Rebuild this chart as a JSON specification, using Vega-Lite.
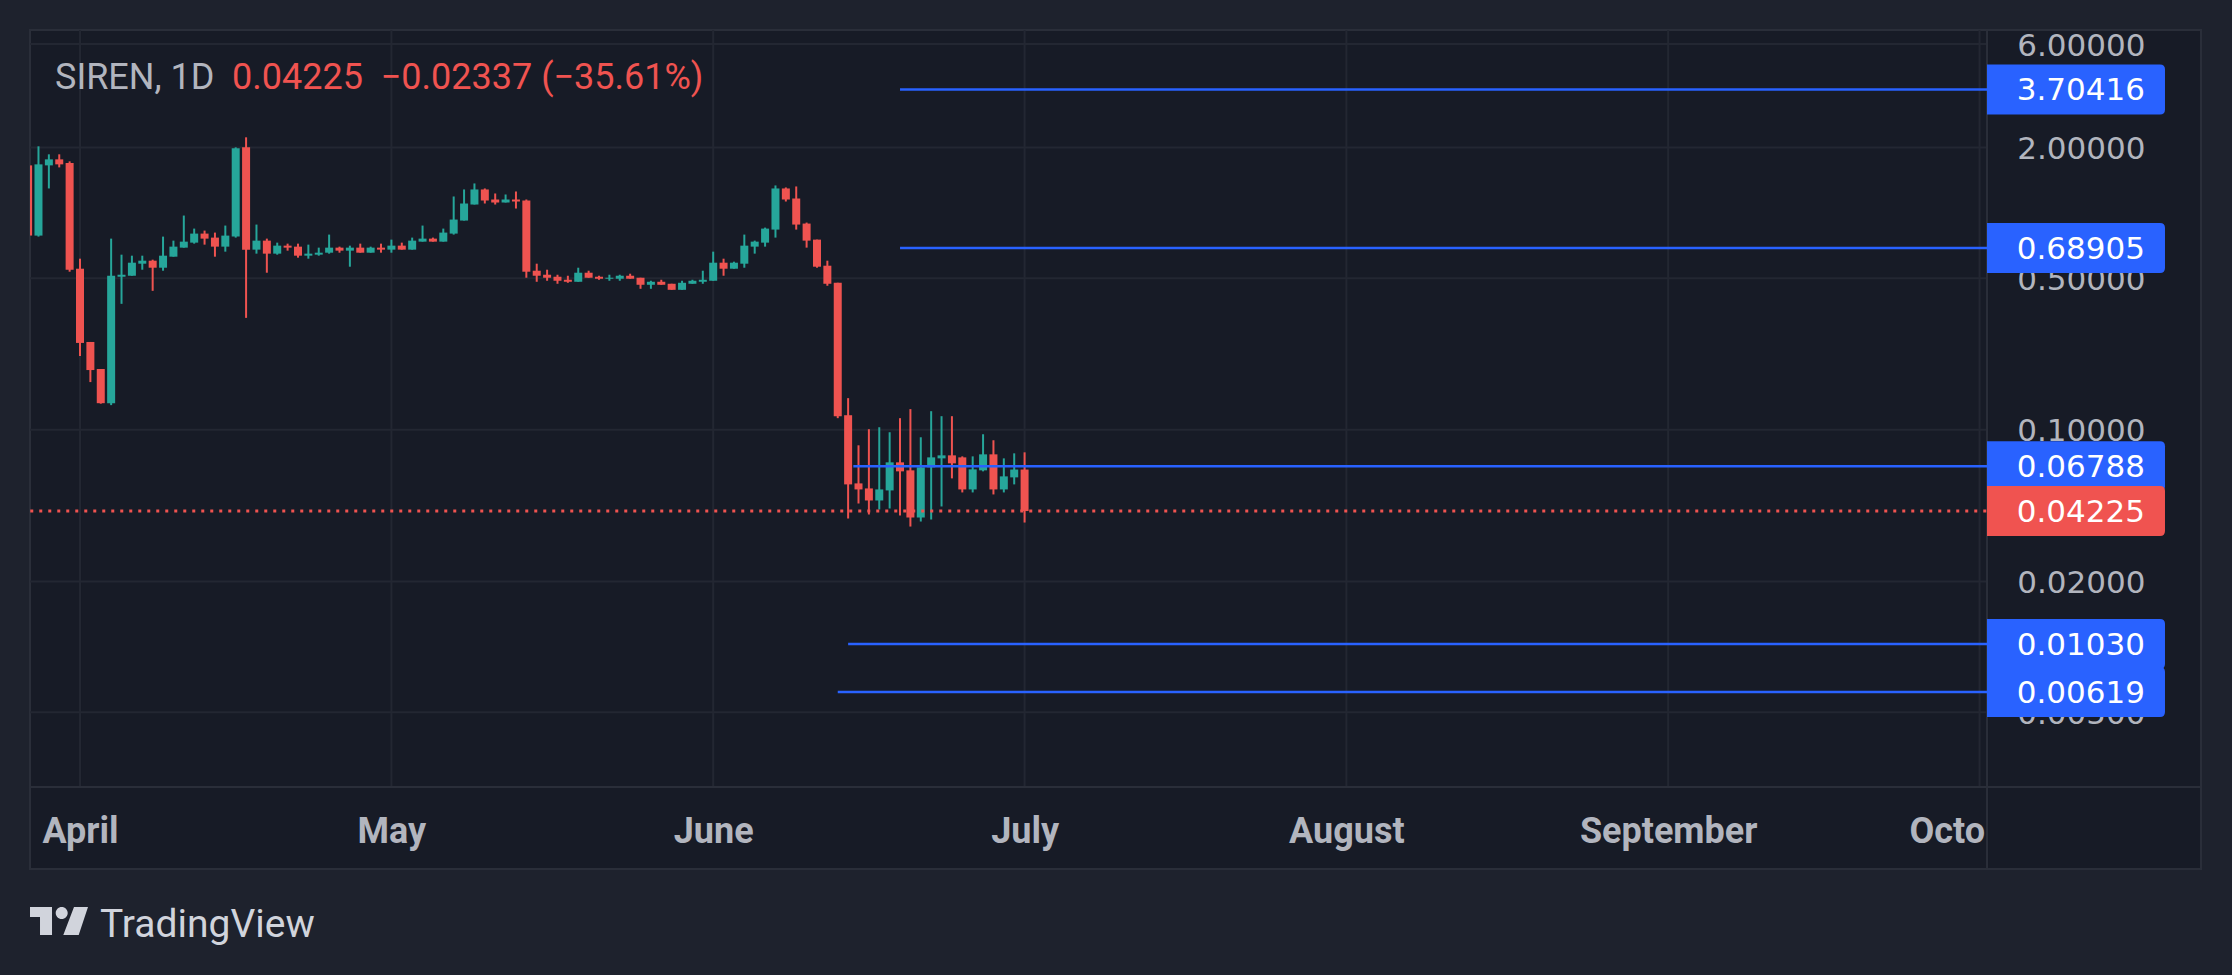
{
  "$schema": "https://vega.github.io/schema/vega-lite/v6.json",
  "width": 2171,
  "height": 839,
  "autosize": {"type": "none"},
  "padding": {"left": 30, "top": 30, "right": 31, "bottom": 106},
  "background": "#1e222d",
  "datasets": {
    "candles": [
      {"d": "2025-03-27", "o": 1.655, "h": 1.70, "l": 0.78, "c": 0.786},
      {"d": "2025-03-28", "o": 0.7855, "h": 2.026, "l": 0.7772, "c": 1.673},
      {"d": "2025-03-29", "o": 1.655, "h": 1.861, "l": 1.2955, "c": 1.764},
      {"d": "2025-03-30", "o": 1.764, "h": 1.861, "l": 1.620, "c": 1.673},
      {"d": "2025-03-31", "o": 1.696, "h": 1.727, "l": 0.5355, "c": 0.547},
      {"d": "2025-04-01", "o": 0.5528, "h": 0.6149, "l": 0.2189, "c": 0.2515},
      {"d": "2025-04-02", "o": 0.2541, "h": 0.2541, "l": 0.166, "c": 0.1886},
      {"d": "2025-04-03", "o": 0.1907, "h": 0.1907, "l": 0.132, "c": 0.1327},
      {"d": "2025-04-04", "o": 0.1327, "h": 0.7607, "l": 0.130, "c": 0.5131},
      {"d": "2025-04-05", "o": 0.5077, "h": 0.6417, "l": 0.3808, "c": 0.5186},
      {"d": "2025-04-06", "o": 0.5131, "h": 0.6348, "l": 0.5131, "c": 0.5893},
      {"d": "2025-04-07", "o": 0.5831, "h": 0.6348, "l": 0.547, "c": 0.602},
      {"d": "2025-04-08", "o": 0.602, "h": 0.6084, "l": 0.4372, "c": 0.5587},
      {"d": "2025-04-09", "o": 0.5587, "h": 0.7772, "l": 0.5412, "c": 0.6348},
      {"d": "2025-04-10", "o": 0.6281, "h": 0.7447, "l": 0.6281, "c": 0.6987},
      {"d": "2025-04-11", "o": 0.6913, "h": 0.9718, "l": 0.6913, "c": 0.7368},
      {"d": "2025-04-12", "o": 0.729, "h": 0.8462, "l": 0.7213, "c": 0.8024},
      {"d": "2025-04-13", "o": 0.8024, "h": 0.8284, "l": 0.7137, "c": 0.7607},
      {"d": "2025-04-14", "o": 0.769, "h": 0.811, "l": 0.6281, "c": 0.6987},
      {"d": "2025-04-15", "o": 0.6987, "h": 0.8738, "l": 0.6625, "c": 0.7855},
      {"d": "2025-04-16", "o": 0.7772, "h": 2.004, "l": 0.769, "c": 1.983},
      {"d": "2025-04-17", "o": 2.004, "h": 2.229, "l": 0.3281, "c": 0.6768},
      {"d": "2025-04-18", "o": 0.6768, "h": 0.8831, "l": 0.6486, "c": 0.7447},
      {"d": "2025-04-19", "o": 0.7447, "h": 0.7607, "l": 0.5298, "c": 0.6486},
      {"d": "2025-04-20", "o": 0.6486, "h": 0.729, "l": 0.6417, "c": 0.7061},
      {"d": "2025-04-21", "o": 0.7061, "h": 0.7213, "l": 0.6696, "c": 0.6913},
      {"d": "2025-04-22", "o": 0.6987, "h": 0.7213, "l": 0.6215, "c": 0.6348},
      {"d": "2025-04-23", "o": 0.6348, "h": 0.7137, "l": 0.6149, "c": 0.6486},
      {"d": "2025-04-24", "o": 0.6417, "h": 0.6913, "l": 0.6348, "c": 0.6553},
      {"d": "2025-04-25", "o": 0.6553, "h": 0.794, "l": 0.6486, "c": 0.6913},
      {"d": "2025-04-26", "o": 0.6913, "h": 0.6987, "l": 0.6553, "c": 0.6696},
      {"d": "2025-04-27", "o": 0.6696, "h": 0.7061, "l": 0.5647, "c": 0.6913},
      {"d": "2025-04-28", "o": 0.6913, "h": 0.7213, "l": 0.6553, "c": 0.6553},
      {"d": "2025-04-29", "o": 0.6553, "h": 0.6987, "l": 0.6553, "c": 0.6913},
      {"d": "2025-04-30", "o": 0.6913, "h": 0.7213, "l": 0.6553, "c": 0.6768},
      {"d": "2025-05-01", "o": 0.6768, "h": 0.7527, "l": 0.6553, "c": 0.7061},
      {"d": "2025-05-02", "o": 0.7061, "h": 0.729, "l": 0.6768, "c": 0.6768},
      {"d": "2025-05-03", "o": 0.6768, "h": 0.769, "l": 0.6768, "c": 0.7447},
      {"d": "2025-05-04", "o": 0.7368, "h": 0.8738, "l": 0.7368, "c": 0.7607},
      {"d": "2025-05-05", "o": 0.7607, "h": 0.769, "l": 0.7368, "c": 0.7368},
      {"d": "2025-05-06", "o": 0.7368, "h": 0.8462, "l": 0.7368, "c": 0.811},
      {"d": "2025-05-07", "o": 0.8024, "h": 1.1898, "l": 0.794, "c": 0.9313},
      {"d": "2025-05-08", "o": 0.9215, "h": 1.2818, "l": 0.9215, "c": 1.1043},
      {"d": "2025-05-09", "o": 1.0925, "h": 1.3664, "l": 1.0925, "c": 1.2818},
      {"d": "2025-05-10", "o": 1.2818, "h": 1.2955, "l": 1.1043, "c": 1.14},
      {"d": "2025-05-11", "o": 1.1522, "h": 1.2282, "l": 1.0925, "c": 1.116},
      {"d": "2025-05-12", "o": 1.116, "h": 1.2152, "l": 1.116, "c": 1.1522},
      {"d": "2025-05-13", "o": 1.1522, "h": 1.2545, "l": 1.047, "c": 1.1279},
      {"d": "2025-05-14", "o": 1.14, "h": 1.1522, "l": 0.5023, "c": 0.5355},
      {"d": "2025-05-15", "o": 0.5412, "h": 0.5831, "l": 0.4813, "c": 0.5131},
      {"d": "2025-05-16", "o": 0.5186, "h": 0.547, "l": 0.4865, "c": 0.5023},
      {"d": "2025-05-17", "o": 0.5077, "h": 0.5186, "l": 0.4712, "c": 0.4865},
      {"d": "2025-05-18", "o": 0.4917, "h": 0.5131, "l": 0.4762, "c": 0.4813},
      {"d": "2025-05-19", "o": 0.4813, "h": 0.5587, "l": 0.4813, "c": 0.5298},
      {"d": "2025-05-20", "o": 0.5298, "h": 0.5412, "l": 0.5023, "c": 0.5023},
      {"d": "2025-05-21", "o": 0.5077, "h": 0.5131, "l": 0.4917, "c": 0.497},
      {"d": "2025-05-22", "o": 0.497, "h": 0.5186, "l": 0.4865, "c": 0.5023},
      {"d": "2025-05-23", "o": 0.497, "h": 0.5186, "l": 0.4865, "c": 0.5131},
      {"d": "2025-05-24", "o": 0.5131, "h": 0.5242, "l": 0.497, "c": 0.497},
      {"d": "2025-05-25", "o": 0.5023, "h": 0.5023, "l": 0.4467, "c": 0.4662},
      {"d": "2025-05-26", "o": 0.4662, "h": 0.4865, "l": 0.4467, "c": 0.4813},
      {"d": "2025-05-27", "o": 0.4813, "h": 0.4917, "l": 0.4662, "c": 0.4662},
      {"d": "2025-05-28", "o": 0.4712, "h": 0.4712, "l": 0.4419, "c": 0.4419},
      {"d": "2025-05-29", "o": 0.4419, "h": 0.4865, "l": 0.4419, "c": 0.4762},
      {"d": "2025-05-30", "o": 0.4712, "h": 0.4917, "l": 0.4712, "c": 0.4865},
      {"d": "2025-05-31", "o": 0.4813, "h": 0.5412, "l": 0.4712, "c": 0.4917},
      {"d": "2025-06-01", "o": 0.4865, "h": 0.6625, "l": 0.4865, "c": 0.5893},
      {"d": "2025-06-02", "o": 0.5893, "h": 0.6149, "l": 0.5131, "c": 0.5528},
      {"d": "2025-06-03", "o": 0.5528, "h": 0.5956, "l": 0.5528, "c": 0.5893},
      {"d": "2025-06-04", "o": 0.5831, "h": 0.794, "l": 0.5587, "c": 0.7061},
      {"d": "2025-06-05", "o": 0.6987, "h": 0.7447, "l": 0.6486, "c": 0.7368},
      {"d": "2025-06-06", "o": 0.729, "h": 0.8551, "l": 0.6987, "c": 0.8462},
      {"d": "2025-06-07", "o": 0.8373, "h": 1.3376, "l": 0.769, "c": 1.2955},
      {"d": "2025-06-08", "o": 1.2955, "h": 1.3094, "l": 1.1279, "c": 1.1522},
      {"d": "2025-06-09", "o": 1.1645, "h": 1.3234, "l": 0.8373, "c": 0.8831},
      {"d": "2025-06-10", "o": 0.8925, "h": 0.902, "l": 0.6913, "c": 0.7447},
      {"d": "2025-06-11", "o": 0.7527, "h": 0.7527, "l": 0.5587, "c": 0.5647},
      {"d": "2025-06-12", "o": 0.5707, "h": 0.602, "l": 0.4613, "c": 0.4712},
      {"d": "2025-06-13", "o": 0.4762, "h": 0.4762, "l": 0.1132, "c": 0.1156},
      {"d": "2025-06-14", "o": 0.1168, "h": 0.14, "l": 0.03903, "c": 0.05606},
      {"d": "2025-06-15", "o": 0.05666, "h": 0.08487, "l": 0.04577, "c": 0.05314},
      {"d": "2025-06-16", "o": 0.05371, "h": 0.1007, "l": 0.04073, "c": 0.04726},
      {"d": "2025-06-17", "o": 0.04726, "h": 0.1028, "l": 0.04296, "c": 0.05314},
      {"d": "2025-06-18", "o": 0.05258, "h": 0.09749, "l": 0.04342, "c": 0.07084},
      {"d": "2025-06-19", "o": 0.07084, "h": 0.1132, "l": 0.0403, "c": 0.06438},
      {"d": "2025-06-20", "o": 0.06507, "h": 0.1246, "l": 0.03584, "c": 0.03945},
      {"d": "2025-06-21", "o": 0.03945, "h": 0.09243, "l": 0.0378, "c": 0.06718},
      {"d": "2025-06-22", "o": 0.06718, "h": 0.1219, "l": 0.03862, "c": 0.07468},
      {"d": "2025-06-23", "o": 0.07389, "h": 0.1156, "l": 0.04435, "c": 0.07629},
      {"d": "2025-06-24", "o": 0.07629, "h": 0.1156, "l": 0.05975, "c": 0.07009},
      {"d": "2025-06-25", "o": 0.07468, "h": 0.07548, "l": 0.05147, "c": 0.05314},
      {"d": "2025-06-26", "o": 0.05314, "h": 0.07548, "l": 0.05147, "c": 0.06576},
      {"d": "2025-06-27", "o": 0.06507, "h": 0.09544, "l": 0.06438, "c": 0.07711},
      {"d": "2025-06-28", "o": 0.07711, "h": 0.08954, "l": 0.05039, "c": 0.05314},
      {"d": "2025-06-29", "o": 0.05314, "h": 0.07389, "l": 0.05147, "c": 0.06104},
      {"d": "2025-06-30", "o": 0.06039, "h": 0.07794, "l": 0.05606, "c": 0.06562},
      {"d": "2025-07-01", "o": 0.06562, "h": 0.07878, "l": 0.0374, "c": 0.04225}
    ],
    "levels": [
      {"start": "2025-06-19T00:00:00Z", "v": 3.70416},
      {"start": "2025-06-19T00:00:00Z", "v": 0.68905},
      {"start": "2025-06-14T12:00:00Z", "v": 0.06788},
      {"start": "2025-06-14T00:00:00Z", "v": 0.0103},
      {"start": "2025-06-13T00:00:00Z", "v": 0.00619}
    ],
    "price": [{"d": "2025-07-01", "v": 0.04225}],
    "gridY": [{"v": 6}, {"v": 2}, {"v": 0.5}, {"v": 0.1}, {"v": 0.02}, {"v": 0.005}],
    "months": [
      {"d": "2025-04-01"}, {"d": "2025-05-01"}, {"d": "2025-06-01"},
      {"d": "2025-07-01"}, {"d": "2025-08-01"}, {"d": "2025-09-01"}, {"d": "2025-10-01"}
    ]
  },
  "layer": [
    {
      "data": {"name": "months"},
      "mark": {"type": "rule", "color": "#232732", "strokeWidth": 2},
      "encoding": {
        "x": {
          "field": "d",
          "type": "temporal",
          "title": null,
          "scale": {
            "type": "utc",
            "nice": false,
            "padding": 0,
            "domain": [
              {"year": 2025, "month": 3, "date": 27, "hours": 4, "minutes": 23, "utc": true},
              {"year": 2025, "month": 10, "date": 22, "hours": 8, "minutes": 2, "utc": true}
            ]
          },
          "axis": {
            "orient": "bottom",
            "values": [
              {"year": 2025, "month": 4, "date": 1, "utc": true},
              {"year": 2025, "month": 5, "date": 1, "utc": true},
              {"year": 2025, "month": 6, "date": 1, "utc": true},
              {"year": 2025, "month": 7, "date": 1, "utc": true},
              {"year": 2025, "month": 8, "date": 1, "utc": true},
              {"year": 2025, "month": 9, "date": 1, "utc": true},
              {"year": 2025, "month": 10, "date": 1, "utc": true}
            ],
            "format": "%B",
            "labelExpr": "datum.label == 'October' ? 'Octo' : datum.label",
            "labelAlign": {"condition": {"test": "utcmonth(datum.value) == 9", "value": "right"}, "value": "center"},
            "labelOffset": {"condition": {"test": "utcmonth(datum.value) == 9", "value": 5}, "value": 0},
            "offset": -27,
            "labelPadding": 0,
            "labelBaseline": "alphabetic",
            "labelFont": "Roboto",
            "labelFontSize": 36,
            "labelFontWeight": "bold",
            "labelColor": "#b2b5be"
          }
        },
        "y": {
          "datum": 6.961,
          "type": "quantitative",
          "scale": {"type": "log", "nice": false, "zero": false, "domain": [0.0009467, 6.961]}
        },
        "y2": {"datum": 0.0022604}
      }
    },
    {
      "data": {"name": "gridY"},
      "mark": {"type": "rule", "color": "#232732", "strokeWidth": 2},
      "encoding": {
        "x": {"datum": {"year": 2025, "month": 3, "date": 27, "hours": 4, "minutes": 23, "utc": true}, "type": "temporal"},
        "x2": {"datum": {"year": 2025, "month": 10, "date": 1, "hours": 17, "minutes": 15, "utc": true}},
        "y": {
          "field": "v",
          "type": "quantitative",
          "title": null,
          "axis": {
            "orient": "right",
            "values": [6, 2, 0.5, 0.1, 0.02, 0.005],
            "format": ".5f",
            "offset": -56,
            "labelPadding": 0,
            "labelOffset": 2,
            "labelAlign": "right",
            "labelBaseline": "middle",
            "labelFont": "DejaVu Sans",
            "labelFontSize": 31,
            "labelColor": "#b2b5be"
          }
        }
      }
    },
    {
      "data": {"values": [{}]},
      "mark": {"type": "rule", "color": "#2a2e39", "strokeWidth": 2},
      "encoding": {
        "x": {"datum": {"year": 2025, "month": 10, "date": 1, "hours": 17, "minutes": 15, "utc": true}, "type": "temporal"},
        "y": {"datum": 6.961, "type": "quantitative"},
        "y2": {"datum": 0.0009467}
      }
    },
    {
      "data": {"values": [{}]},
      "mark": {"type": "rule", "color": "#2a2e39", "strokeWidth": 2},
      "encoding": {
        "x": {"datum": {"year": 2025, "month": 3, "date": 27, "hours": 4, "minutes": 23, "utc": true}, "type": "temporal"},
        "x2": {"datum": {"year": 2025, "month": 10, "date": 22, "hours": 8, "minutes": 2, "utc": true}},
        "y": {"datum": 0.0022604, "type": "quantitative"}
      }
    },
    {
      "data": {"name": "candles"},
      "mark": {"type": "rule", "strokeWidth": 2, "clip": true},
      "encoding": {
        "x": {"field": "d", "type": "temporal"},
        "y": {"field": "l", "type": "quantitative"},
        "y2": {"field": "h"},
        "color": {"condition": {"test": "datum.c >= datum.o", "value": "#26a69a"}, "value": "#ef5350"}
      }
    },
    {
      "data": {"name": "candles"},
      "mark": {"type": "bar", "size": 8, "clip": true},
      "encoding": {
        "x": {"field": "d", "type": "temporal"},
        "y": {"field": "o", "type": "quantitative"},
        "y2": {"field": "c"},
        "color": {"condition": {"test": "datum.c >= datum.o", "value": "#26a69a"}, "value": "#ef5350"}
      }
    },
    {
      "data": {"name": "levels"},
      "mark": {"type": "rule", "color": "#2962ff", "strokeWidth": 2.5},
      "encoding": {
        "x": {"field": "start", "type": "temporal"},
        "x2": {"datum": {"year": 2025, "month": 10, "date": 1, "hours": 17, "minutes": 15, "utc": true}},
        "y": {"field": "v", "type": "quantitative"}
      }
    },
    {
      "data": {"name": "price"},
      "mark": {"type": "rule", "color": "#f05350", "strokeWidth": 3, "strokeDash": [3, 6]},
      "encoding": {
        "x": {"datum": {"year": 2025, "month": 3, "date": 27, "hours": 5, "utc": true}, "type": "temporal"},
        "x2": {"datum": {"year": 2025, "month": 10, "date": 1, "hours": 17, "minutes": 15, "utc": true}},
        "y": {"field": "v", "type": "quantitative"}
      }
    },
    {
      "data": {"values": [{}]},
      "mark": {"type": "text", "text": "SIREN, 1D", "align": "left", "baseline": "alphabetic", "font": "Roboto", "fontSize": 36, "color": "#b2b5be"},
      "encoding": {
        "x": {"datum": {"year": 2025, "month": 3, "date": 29, "hours": 14, "minutes": 12, "utc": true}, "type": "temporal"},
        "y": {"datum": 3.7216, "type": "quantitative"}
      }
    },
    {
      "data": {"values": [{}]},
      "mark": {"type": "text", "text": "0.04225\u00a0\u00a0−0.02337 (−35.61%)", "align": "left", "baseline": "alphabetic", "dx": 177, "font": "Roboto", "fontSize": 36, "color": "#f05350"},
      "encoding": {
        "x": {"datum": {"year": 2025, "month": 3, "date": 29, "hours": 14, "minutes": 12, "utc": true}, "type": "temporal"},
        "y": {"datum": 3.7216, "type": "quantitative"}
      }
    },
    {
      "data": {"name": "levels"},
      "mark": {"type": "point", "shape": "M-1,-0.2809H0.9438Q1,-0.2809 1,-0.2247V0.2247Q1,0.2809 0.9438,0.2809H-1Z", "size": 31684, "filled": true, "opacity": 1, "strokeWidth": 0, "color": "#2962ff"},
      "encoding": {
        "x": {"datum": {"year": 2025, "month": 10, "date": 10, "hours": 7, "utc": true}, "type": "temporal"},
        "y": {"field": "v", "type": "quantitative"}
      }
    },
    {
      "data": {"name": "price"},
      "mark": {"type": "point", "shape": "M-1,-0.2809H0.9438Q1,-0.2809 1,-0.2247V0.2247Q1,0.2809 0.9438,0.2809H-1Z", "size": 31684, "filled": true, "opacity": 1, "strokeWidth": 0, "color": "#f05350"},
      "encoding": {
        "x": {"datum": {"year": 2025, "month": 10, "date": 10, "hours": 7, "utc": true}, "type": "temporal"},
        "y": {"field": "v", "type": "quantitative"}
      }
    },
    {
      "data": {"name": "levels"},
      "mark": {"type": "text", "align": "right", "baseline": "middle", "dx": 69, "dy": 2, "font": "DejaVu Sans", "fontSize": 31, "color": "#ffffff"},
      "encoding": {
        "x": {"datum": {"year": 2025, "month": 10, "date": 10, "hours": 7, "utc": true}, "type": "temporal"},
        "y": {"field": "v", "type": "quantitative"},
        "text": {"field": "v", "type": "quantitative", "format": ".5f"}
      }
    },
    {
      "data": {"name": "price"},
      "mark": {"type": "text", "align": "right", "baseline": "middle", "dx": 69, "dy": 2, "font": "DejaVu Sans", "fontSize": 31, "color": "#ffffff"},
      "encoding": {
        "x": {"datum": {"year": 2025, "month": 10, "date": 10, "hours": 7, "utc": true}, "type": "temporal"},
        "y": {"field": "v", "type": "quantitative"},
        "text": {"field": "v", "type": "quantitative", "format": ".5f"}
      }
    },
    {
      "data": {"values": [{}]},
      "mark": {
        "type": "point",
        "shape": "M-1,-0.483H-0.241V0.483H-0.655V-0.138H-1Z M-0.114,-0.276A0.207,0.207 0 1,0 0.3,-0.276A0.207,0.207 0 1,0 -0.114,-0.276Z M0.517,-0.483H1L0.679,0.483H0.148Z",
        "size": 3364,
        "filled": true,
        "opacity": 1,
        "strokeWidth": 0,
        "color": "#d1d4dc"
      },
      "encoding": {
        "x": {"datum": {"year": 2025, "month": 3, "date": 29, "hours": 23, "minutes": 27, "utc": true}, "type": "temporal"},
        "y": {"datum": 0.0005454, "type": "quantitative"}
      }
    },
    {
      "data": {"values": [{}]},
      "mark": {"type": "text", "text": "TradingView", "align": "left", "baseline": "alphabetic", "font": "Roboto", "fontSize": 39, "color": "#d1d4dc"},
      "encoding": {
        "x": {"datum": {"year": 2025, "month": 4, "date": 2, "hours": 22, "minutes": 15, "utc": true}, "type": "temporal"},
        "y": {"datum": 0.0004603, "type": "quantitative"}
      }
    }
  ],
  "config": {
    "view": {"stroke": "#2a2e39", "strokeWidth": 2, "fill": "#171b26"},
    "axis": {"grid": false, "domain": false, "ticks": false, "labelOverlap": false, "labelBound": false, "labelFlush": false}
  }
}
